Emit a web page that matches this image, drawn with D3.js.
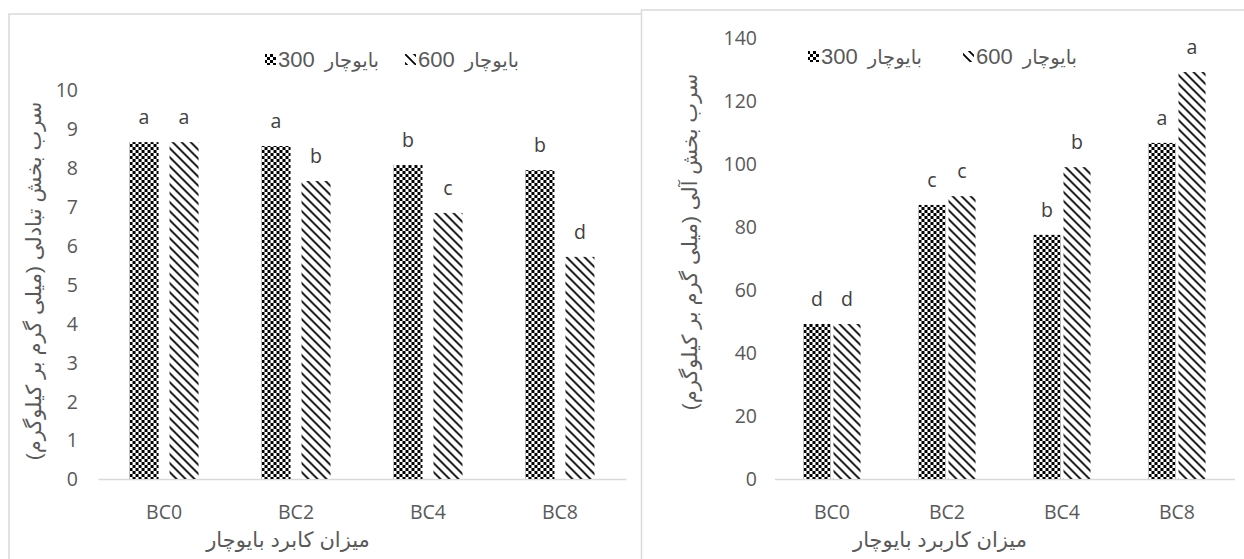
<!DOCTYPE html>
<html>
<head>
<meta charset="utf-8">
<script src="https://cdn.jsdelivr.net/npm/d3@7"></script>
<style>
  body { margin: 0; background: #fff; }
  svg { display: block; }
  .tick-text { font-family: "Open Sans", Lato, sans-serif; font-size: 19.5px; fill: #595959; }
  .mark-text { font-family: "Open Sans", Lato, sans-serif; font-size: 19.5px; fill: #404040; }
  .leg-num { font-family: "Liberation Sans", Arial, sans-serif; font-size: 22px; fill: #595959; }
  .leg-word { font-family: "DejaVu Sans", sans-serif; font-size: 19.5px; fill: #595959; }
  .fa-title { font-family: "Liberation Sans", "DejaVu Sans", sans-serif; font-size: 21px; fill: #595959; }
</style>
</head>
<body>
<div id="chart"></div>
<script>
// data
var categories = ["BC0", "BC2", "BC4", "BC8"];
var seriesNumbers = ["300", "600"];
var seriesWord = "بایوچار";

var exchange300 = [8.66, 8.56, 8.07, 7.94];
var exchange600 = [8.66, 7.66, 6.84, 5.71];
var exchangeLetters300 = ["a", "a", "b", "b"];
var exchangeLetters600 = ["a", "b", "c", "d"];
var exchangeTicks = d3.range(0, 11, 1);

var organic300 = [49.2, 87.0, 77.5, 106.7];
var organic600 = [49.2, 89.8, 99.0, 129.2];
var organicLetters300 = ["d", "c", "b", "a"];
var organicLetters600 = ["d", "c", "b", "a"];
var organicTicks = d3.range(0, 141, 20);

var yTitleLeft = "سرب بخش تبادلی (میلی گرم بر کیلوگرم)";
var yTitleRight = "سرب بخش آلی (میلی گرم بر کیلوگرم)";
var xTitleLeft = "میزان کابرد بایوچار";
var xTitleRight = "میزان کاربرد بایوچار";

var W = 1244, H = 559;

var svg = d3.select("#chart").append("svg")
    .attr("width", W)
    .attr("height", H);

var defs = svg.append("defs");

// small checker board for the 300 series
var checker = defs.append("pattern")
    .attr("id", "pat300")
    .attr("patternUnits", "userSpaceOnUse")
    .attr("width", 6).attr("height", 6);
checker.append("rect").attr("width", 6).attr("height", 6).attr("fill", "#fff");
checker.append("rect").attr("width", 3).attr("height", 3).attr("fill", "#000");
checker.append("rect").attr("x", 3).attr("y", 3).attr("width", 3).attr("height", 3).attr("fill", "#000");

// wide downward diagonal for the 600 series
var diag = defs.append("pattern")
    .attr("id", "pat600")
    .attr("patternUnits", "userSpaceOnUse")
    .attr("width", 9).attr("height", 9);
diag.append("rect").attr("width", 9).attr("height", 9).attr("fill", "#fff");
diag.append("path")
    .attr("d", "M-2,-2 L11,11 M-2,7 L2,11 M7,-2 L11,2")
    .attr("stroke", "#000")
    .attr("stroke-width", 1.8);

var fills = ["url(#pat300)", "url(#pat600)"];

// chart frames
svg.append("rect")
    .attr("x", 9).attr("y", 14)
    .attr("width", 640).attr("height", 560)
    .attr("fill", "#fff")
    .attr("stroke", "#d9d9d9").attr("stroke-width", 1.5);

svg.append("rect")
    .attr("x", 641.5).attr("y", 10)
    .attr("width", 620).attr("height", 560)
    .attr("fill", "#fff")
    .attr("stroke", "#d9d9d9").attr("stroke-width", 1.5);

function drawChart(o) {
    var g = svg.append("g");

    var y = d3.scaleLinear()
        .domain([0, o.yMax])
        .range([o.bottom, o.top]);

    var x0 = d3.scaleBand()
        .domain(categories)
        .range([o.left, o.right])
        .paddingInner(o.padInner)
        .paddingOuter(o.padOuter);

    var x1 = d3.scaleBand()
        .domain([0, 1])
        .range([0, x0.bandwidth()])
        .paddingInner(o.barGap);

    // y axis labels only
    var yAxis = d3.axisLeft(y)
        .tickValues(o.ticks)
        .tickSize(0)
        .tickPadding(0);

    var ya = g.append("g")
        .attr("transform", "translate(" + o.tickX + ",0)")
        .call(yAxis);
    ya.select(".domain").remove();
    ya.selectAll("text")
        .attr("class", "tick-text")
        .attr("font-family", null).attr("font-size", null)
        .attr("dy", "0.35em");

    // x axis
    var xAxis = d3.axisBottom(x0).tickSize(0).tickPadding(0);
    var xa = g.append("g")
        .attr("transform", "translate(0," + o.bottom + ")")
        .call(xAxis);
    xa.select(".domain").attr("stroke", "#d9d9d9").attr("stroke-width", 1.3);
    xa.selectAll("text")
        .attr("class", "tick-text")
        .attr("font-family", null).attr("font-size", null)
        .attr("y", 40).attr("dy", 0);

    var rows = categories.map(function (c, i) {
        return { cat: c, vals: [o.s300[i], o.s600[i]], letters: [o.l300[i], o.l600[i]] };
    });

    var groups = g.selectAll(".grp")
        .data(rows)
        .enter().append("g")
        .attr("class", "grp")
        .attr("transform", function (d) { return "translate(" + x0(d.cat) + ",0)"; });

    groups.selectAll("rect")
        .data(function (d) { return d.vals; })
        .enter().append("rect")
        .attr("x", function (d, i) { return x1(i); })
        .attr("y", function (d) { return y(d); })
        .attr("width", x1.bandwidth())
        .attr("height", function (d) { return o.bottom - y(d); })
        .attr("fill", function (d, i) { return fills[i]; });

    groups.selectAll(".mark-text")
        .data(function (d) { return d.vals.map(function (v, i) { return { v: v, t: d.letters[i] }; }); })
        .enter().append("text")
        .attr("class", "mark-text")
        .attr("text-anchor", "middle")
        .attr("x", function (d, i) { return x1(i) + x1.bandwidth() / 2; })
        .attr("y", function (d) { return y(d.v) - 18; })
        .text(function (d) { return d.t; });

    // legend: swatch, number, word
    o.legend.forEach(function (lx, i) {
        g.append("rect")
            .attr("x", lx).attr("y", o.legendY - 13)
            .attr("width", 11).attr("height", 11)
            .attr("fill", fills[i]);
        var num = g.append("text")
            .attr("class", "leg-num")
            .attr("x", lx + 13).attr("y", o.legendY)
            .text(seriesNumbers[i]);
        var nw = num.node().getComputedTextLength();
        g.append("text")
            .attr("class", "leg-word")
            .attr("x", lx + 13 + nw + 10).attr("y", o.legendY)
            .text(seriesWord);
    });

    // axis titles
    g.append("text")
        .attr("class", "fa-title")
        .attr("text-anchor", "middle")
        .attr("transform", "translate(" + o.yTitleX + "," + o.yTitleY + ") rotate(-90)")
        .text(o.yTitle);

    g.append("text")
        .attr("class", "fa-title")
        .attr("text-anchor", "middle")
        .attr("x", o.xTitleX).attr("y", o.xTitleY)
        .text(o.xTitle);
}

drawChart({
    s300: exchange300, s600: exchange600,
    l300: exchangeLetters300, l600: exchangeLetters600,
    ticks: exchangeTicks, yMax: 10,
    left: 98, right: 626, top: 90, bottom: 479,
    padInner: 0.477, padOuter: 0.239, barGap: 0.275,
    tickX: 78,
    legendY: 67, legend: [265, 405],
    yTitle: yTitleLeft, yTitleX: 41, yTitleY: 281,
    xTitle: xTitleLeft, xTitleX: 288, xTitleY: 547
});

drawChart({
    s300: organic300, s600: organic600,
    l300: organicLetters300, l600: organicLetters600,
    ticks: organicTicks, yMax: 140,
    left: 774.5, right: 1234.5, top: 38, bottom: 479,
    padInner: 0.504, padOuter: 0.252, barGap: 0.1,
    tickX: 757,
    legendY: 64, legend: [808, 963],
    yTitle: yTitleRight, yTitleX: 697, yTitleY: 242,
    xTitle: xTitleRight, xTitleX: 940, xTitleY: 547
});
</script>
</body>
</html>
